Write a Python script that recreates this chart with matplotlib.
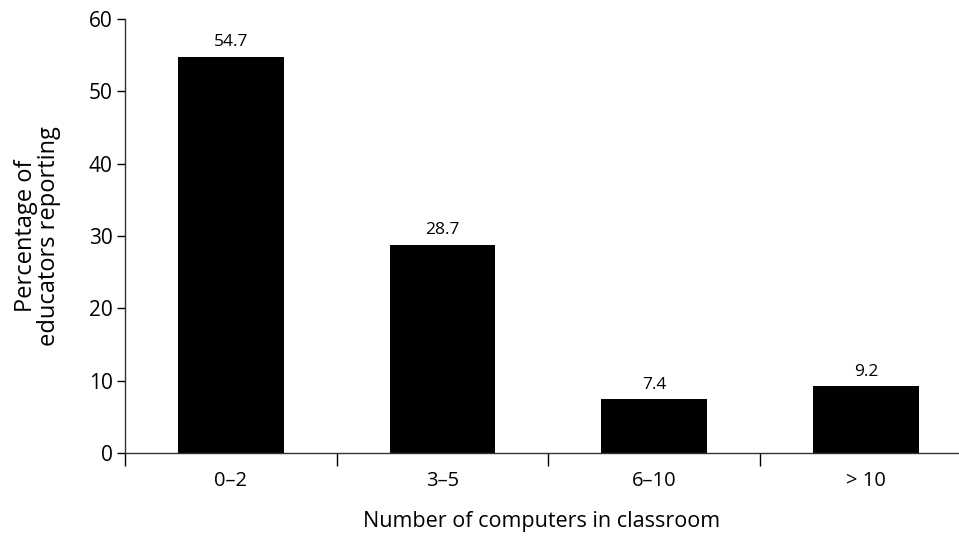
import matplotlib
matplotlib.use("Agg")
import matplotlib.pyplot as plt

categories = ["0\u20132", "3\u20135", "6\u201310", "> 10"]
percentages = [54.7, 28.7, 7.4, 9.2]
y_ticks = [0, 10, 20, 30, 40, 50, 60]

plt.rcParams["font.family"] = ["Open Sans", "DejaVu Sans"]

fig = plt.figure(figsize=(9.59, 5.36), dpi=100)
ax = fig.add_axes([125 / 959, 83 / 536, 1 - 125 / 959, 434 / 536])

x = range(len(categories))
ax.bar(x, percentages, width=0.5, color="black")
for xi, v in zip(x, percentages):
    ax.annotate(f"{v}", (xi, v), textcoords="offset points", xytext=(0, 5),
                ha="center", va="bottom", fontsize=12.5)

ax.set_xlim(-0.5, 3.44)
ax.set_ylim(0, 60)
ax.set_yticks(y_ticks)
ax.set_xticks(list(x))
ax.set_xticklabels(categories, fontsize=14.5)
ax.set_xticks([-0.5, 0.5, 1.5, 2.5], minor=True)
ax.tick_params(axis="x", which="major", length=0, pad=13)
ax.tick_params(axis="x", which="minor", length=9, width=1, direction="out")
ax.tick_params(axis="y", length=6, width=1, labelsize=15, pad=3)

for side in ("top", "right"):
    ax.spines[side].set_visible(False)
for side in ("left", "bottom"):
    ax.spines[side].set_linewidth(1)
    ax.spines[side].set_color("#333333")

ax.set_xlabel("Number of computers in classroom", fontsize=15.5, labelpad=14)
ax.set_ylabel("Percentage of\neducators reporting", fontsize=17, labelpad=20,
              linespacing=0.95)

plt.savefig("out.png", dpi=100)
